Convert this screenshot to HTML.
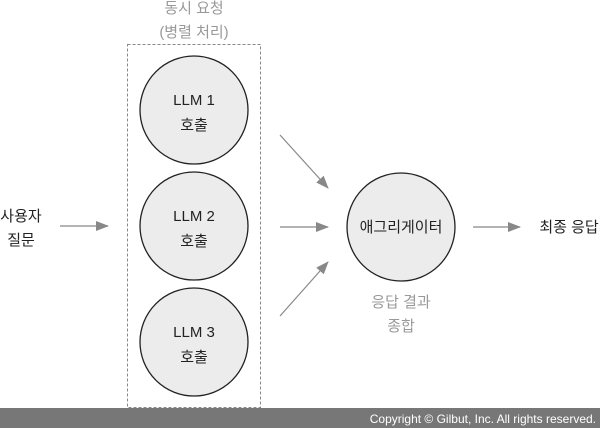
<!DOCTYPE html>
<html><head><meta charset="utf-8"><style>
body{margin:0;width:600px;height:428px;background:#fff;overflow:hidden;font-family:"Liberation Sans","Noto Sans CJK KR",sans-serif;}
</style></head><body>
<svg width="600" height="428" xmlns="http://www.w3.org/2000/svg" style="position:absolute;left:0;top:0">
<defs><marker id="a" markerWidth="13" markerHeight="10" refX="12" refY="5" orient="auto" markerUnits="userSpaceOnUse"><path d="M0,0 L13,5 L0,10 z" fill="#888"/></marker></defs>
<g font-family="Liberation Sans, Noto Sans CJK KR, sans-serif" text-anchor="middle" font-size="15">
<text x="194" y="13" fill="#999">동시 요청</text>
<text x="194" y="37" fill="#999">(병렬 처리)</text>
<rect x="127.5" y="44.5" width="133" height="363" fill="none" stroke="#888" stroke-dasharray="3,2"/>
<circle cx="194" cy="110" r="54" fill="#ececec" stroke="#222" stroke-width="1.3"/>
<circle cx="194" cy="226" r="54" fill="#ececec" stroke="#222" stroke-width="1.3"/>
<circle cx="194" cy="342" r="54" fill="#ececec" stroke="#222" stroke-width="1.3"/>
<circle cx="401" cy="227" r="54" fill="#ececec" stroke="#222" stroke-width="1.3"/>
<text x="194" y="105" fill="#222">LLM 1</text><text x="194" y="130" fill="#222">호출</text>
<text x="194" y="221" fill="#222">LLM 2</text><text x="194" y="246" fill="#222">호출</text>
<text x="194" y="337" fill="#222">LLM 3</text><text x="194" y="362" fill="#222">호출</text>
<text x="401" y="232" fill="#222">애그리게이터</text>
<text x="401" y="307" fill="#999">응답 결과</text>
<text x="401" y="331" fill="#999">종합</text>
<text x="21" y="221" fill="#222">사용자</text>
<text x="21" y="245" fill="#222">질문</text>
<text x="569" y="232" fill="#222">최종 응답</text>
</g>
<g stroke="#888" stroke-width="1.2" marker-end="url(#a)">
<line x1="60" y1="226" x2="108" y2="226"/>
<line x1="280" y1="135" x2="328" y2="188"/>
<line x1="280" y1="227" x2="328" y2="227"/>
<line x1="280" y1="316" x2="328" y2="262"/>
<line x1="473" y1="227" x2="520" y2="227"/>
</g>
<rect x="0" y="408" width="600" height="20" fill="#777"/>
<text x="596" y="423" text-anchor="end" font-size="12" fill="#fff" font-family="Liberation Sans, sans-serif">Copyright © Gilbut, Inc. All rights reserved.</text>
</svg>
</body></html>
